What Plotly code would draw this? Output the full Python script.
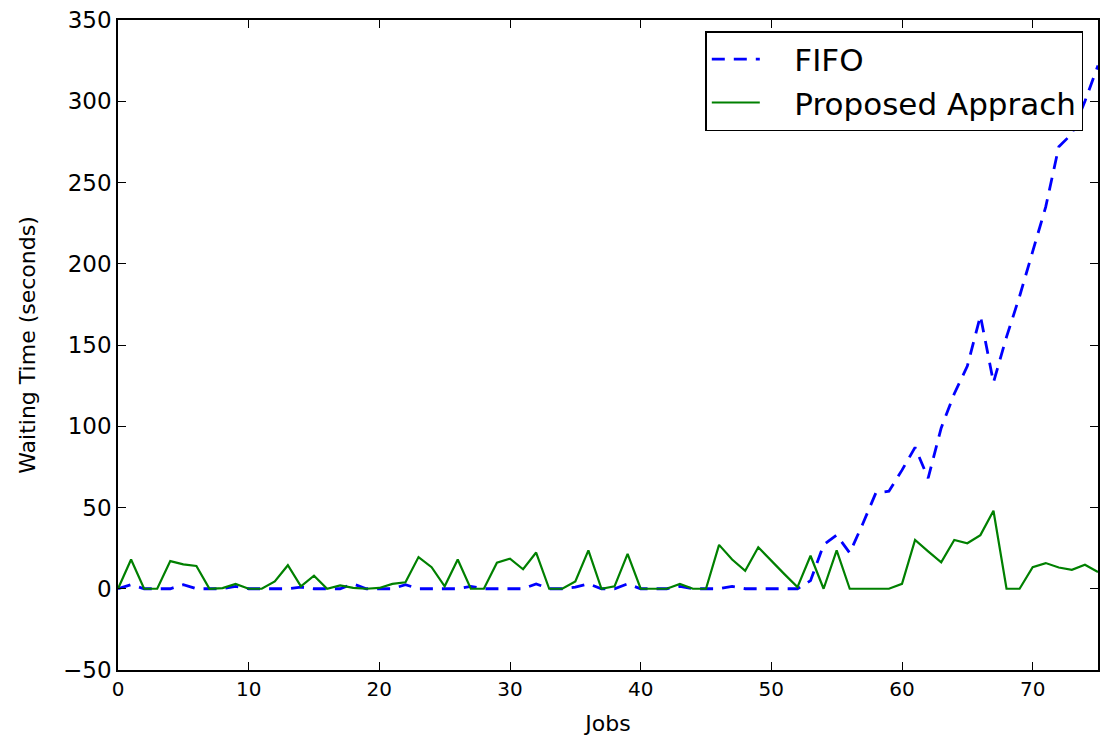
import plotly.graph_objects as go

jobs = list(range(76))

fifo = [0, 2.5, 0, 0, 0, 2.5, 0, 0, 0, 1.5,
        0, 0, 0, 0, 1, 0, 0, 0, 3, 0,
        0, 0, 2.5, 0, 0, 0, 0, 1.5, 0, 0,
        0, 0, 3, 0, 0, 1, 3, 0, 0, 3,
        0, 0, 0, 1.5, 0, 0, 0, 1.5, 0, 0,
        0, 0, 0, 5, 27, 33, 22, 40, 59, 60,
        73, 87, 68, 99, 120, 137, 168, 127, 155, 180,
        208, 235, 272, 280, 300, 322]

proposed = [0, 18, 0, 0, 17, 15, 14, 0, 0.4, 3,
            0, 0, 4.5, 14.5, 1.5, 8, 0, 2, 0.5, 0,
            0.5, 3, 4, 19.5, 13.3, 1.5, 18, 0, 0, 16,
            18.5, 12, 22.3, 0, 0, 4.5, 23.6, 0, 1.5, 21.5,
            0, 0, 0, 3, 0, 0, 27, 18, 11, 25.5,
            17, 9, 1, 20.3, 0, 23.6, 0, 0, 0, 0,
            3, 30, 23, 16.2, 30, 28, 33, 48, 0, 0,
            13.3, 15.8, 13.1, 11.7, 14.8, 10.3]

x_ticks = [0, 10, 20, 30, 40, 50, 60, 70]
y_ticks = [-50, 0, 50, 100, 150, 200, 250, 300, 350]

pad = "\u00a0\u00a0\u00a0"

fig = go.Figure()
fig.add_trace(go.Scatter(
    x=jobs, y=fifo, mode="lines", name=pad + "FIFO",
    line=dict(color="#0000ff", width=2.8, dash="13px,9px")))
fig.add_trace(go.Scatter(
    x=jobs, y=proposed, mode="lines", name=pad + "Proposed Apprach",
    line=dict(color="#008000", width=2.2)))

axis_common = dict(
    showgrid=False, zeroline=False, showline=True, linecolor="black",
    linewidth=1.5, mirror="ticks", ticks="inside", ticklen=8,
    tickcolor="black", tickwidth=1, automargin=False,
)

fig.update_layout(
    width=1104, height=740,
    margin=dict(l=118, r=6, t=20, b=70),
    paper_bgcolor="white", plot_bgcolor="white",
    font=dict(family="DejaVu Sans", color="black"),
    xaxis=dict(range=[0, 75], tickvals=x_ticks,
               tickfont=dict(size=20, family="DejaVu Sans"),
               title=dict(text="Jobs", font=dict(size=22), standoff=16),
               **axis_common),
    yaxis=dict(range=[-50, 350], tickvals=y_ticks,
               tickfont=dict(size=23, family="DejaVu Sans"),
               title=dict(text="Waiting Time (seconds)", font=dict(size=22), standoff=21),
               **axis_common),
    legend=dict(x=0.985, y=0.983, xanchor="right", yanchor="top",
                bgcolor="white", bordercolor="black", borderwidth=1.5,
                font=dict(size=31, family="DejaVu Sans"),
                itemwidth=48, tracegroupgap=0),
    showlegend=True,
)

fig.write_html("out.html", config={"displayModeBar": False},
               post_script="document.body.style.margin='0';document.body.style.overflow='hidden';")
